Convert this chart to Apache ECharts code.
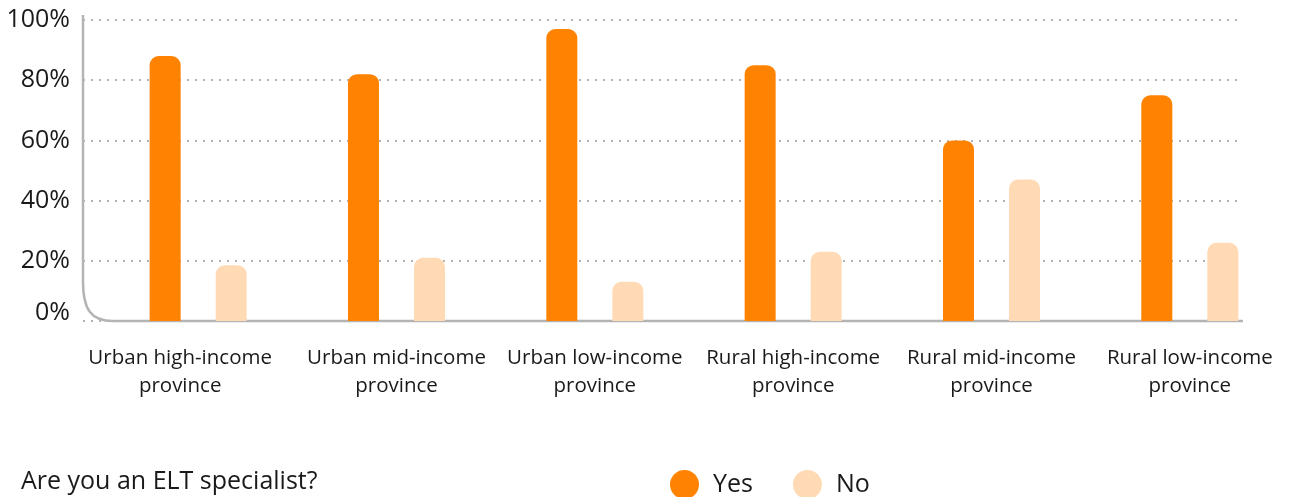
<!DOCTYPE html>
<html>
<head>
<meta charset="utf-8">
<script src="https://cdn.jsdelivr.net/npm/echarts@6/dist/echarts.min.js"></script>
<style>
  html, body { margin: 0; padding: 0; background: #fff; }
  #chart { width: 1289px; height: 497px; }
</style>
</head>
<body>
<div id="chart"></div>
<script>
// Share of respondents answering "Are you an ELT specialist?" by province type
const categories = [
  'Urban high-income\nprovince',
  'Urban mid-income\nprovince',
  'Urban low-income\nprovince',
  'Rural high-income\nprovince',
  'Rural mid-income\nprovince',
  'Rural low-income\nprovince'
];
const yesValues = [88, 82, 97, 85, 60, 75];
const noValues = [18.5, 21, 13, 23, 47, 26];
const yTicks = [0, 20, 40, 60, 80, 100];
const seriesNames = ['Yes', 'No'];
const questionText = 'Are you an ELT specialist?';

const FONT = '"Open Sans", sans-serif';
const TEXT = '#1a1a1a';
const AXIS_GRAY = '#b4b4b4';
const ORANGE = '#ff8300';
const PEACH = '#ffdab4';

const chart = echarts.init(document.getElementById('chart'), null, { renderer: 'canvas' });

const gridTop = 20;
const gridBottom = 176;

const option = {
  animation: false,
  textStyle: { fontFamily: FONT },
  title: {
    text: questionText,
    left: 16,
    top: 464,
    textStyle: { fontFamily: FONT, fontSize: 25, fontWeight: 'normal', color: TEXT }
  },
  legend: {
    data: seriesNames,
    left: 665,
    top: 465,
    icon: 'circle',
    itemWidth: 29,
    itemHeight: 29,
    itemGap: 40,
    textStyle: { fontFamily: FONT, fontSize: 25, color: TEXT, padding: [0, 0, 0, 9] }
  },
  grid: [
    // frame: value labels and dotted guides
    { left: 83, right: 46, top: gridTop, bottom: gridBottom },
    // bars and category labels
    { left: 99, right: -2, top: gridTop, bottom: gridBottom }
  ],
  xAxis: [
    { gridIndex: 0, type: 'category', data: categories, show: false },
    {
      gridIndex: 1,
      type: 'category',
      data: categories.map((c, i) => i === 0
        ? { value: c, textStyle: { padding: [0, 36, 0, 0] } }
        : c),
      axisLine: { show: false },
      axisTick: { show: false },
      axisLabel: {
        margin: 23,
        fontFamily: FONT,
        fontSize: 20.5,
        lineHeight: 28,
        color: TEXT,
        interval: 0
      }
    }
  ],
  yAxis: [
    {
      gridIndex: 0,
      type: 'value',
      min: yTicks[0],
      max: yTicks[yTicks.length - 1],
      interval: 20,
      axisLine: { show: false },
      axisTick: { show: false },
      axisLabel: {
        margin: 13,
        fontFamily: FONT,
        fontSize: 25,
        color: TEXT,
        formatter: v => v === 0 ? '{z|0%}' : v + '%',
        rich: { z: { fontFamily: FONT, fontSize: 25, color: TEXT, padding: [0, 0, 16, 0] } }
      },
      splitLine: {
        show: true,
        lineStyle: { color: AXIS_GRAY, width: 2, type: [2, 6] }
      }
    },
    {
      gridIndex: 1,
      type: 'value',
      min: yTicks[0],
      max: yTicks[yTicks.length - 1],
      interval: 20,
      show: false,
      splitLine: { show: false }
    }
  ],
  series: [
    {
      name: seriesNames[0],
      type: 'bar',
      xAxisIndex: 1,
      yAxisIndex: 1,
      data: yesValues,
      barWidth: 31,
      barGap: '113%',
      itemStyle: { color: ORANGE, borderRadius: [9, 9, 0, 0] }
    },
    {
      name: seriesNames[1],
      type: 'bar',
      xAxisIndex: 1,
      yAxisIndex: 1,
      data: noValues,
      barWidth: 31,
      barGap: '113%',
      itemStyle: { color: PEACH, borderRadius: [9, 9, 0, 0] }
    }
  ]
};

chart.setOption(option);

// Axis frame with a rounded lower-left corner, placed from the frame grid's scale
function drawFrame() {
  const rect = chart.getModel().getComponent('grid', 0).coordinateSystem.getRect();
  const yTop = chart.convertToPixel({ yAxisIndex: 0 }, yTicks[yTicks.length - 1]) - 5;
  const yBase = chart.convertToPixel({ yAxisIndex: 0 }, yTicks[0]);
  const x0 = rect.x;
  const x1 = rect.x + rect.width;
  const rx = 30, ry = 40;
  const stroke = { fill: null, stroke: AXIS_GRAY, lineWidth: 2.5 };
  chart.setOption({
    graphic: [
      {
        type: 'line',
        shape: { x1: x0, y1: yTop, x2: x0, y2: yBase - ry },
        style: stroke, z: 1, silent: true
      },
      {
        type: 'bezierCurve',
        shape: {
          x1: x0, y1: yBase - ry,
          cpx1: x0, cpy1: yBase - ry * 0.3,
          cpx2: x0 + rx * 0.25, cpy2: yBase,
          x2: x0 + rx, y2: yBase
        },
        style: stroke, z: 1, silent: true
      },
      {
        type: 'line',
        shape: { x1: x0 + rx, y1: yBase, x2: x1, y2: yBase },
        style: stroke, z: 1, silent: true
      }
    ]
  });
}
drawFrame();
</script>
</body>
</html>
